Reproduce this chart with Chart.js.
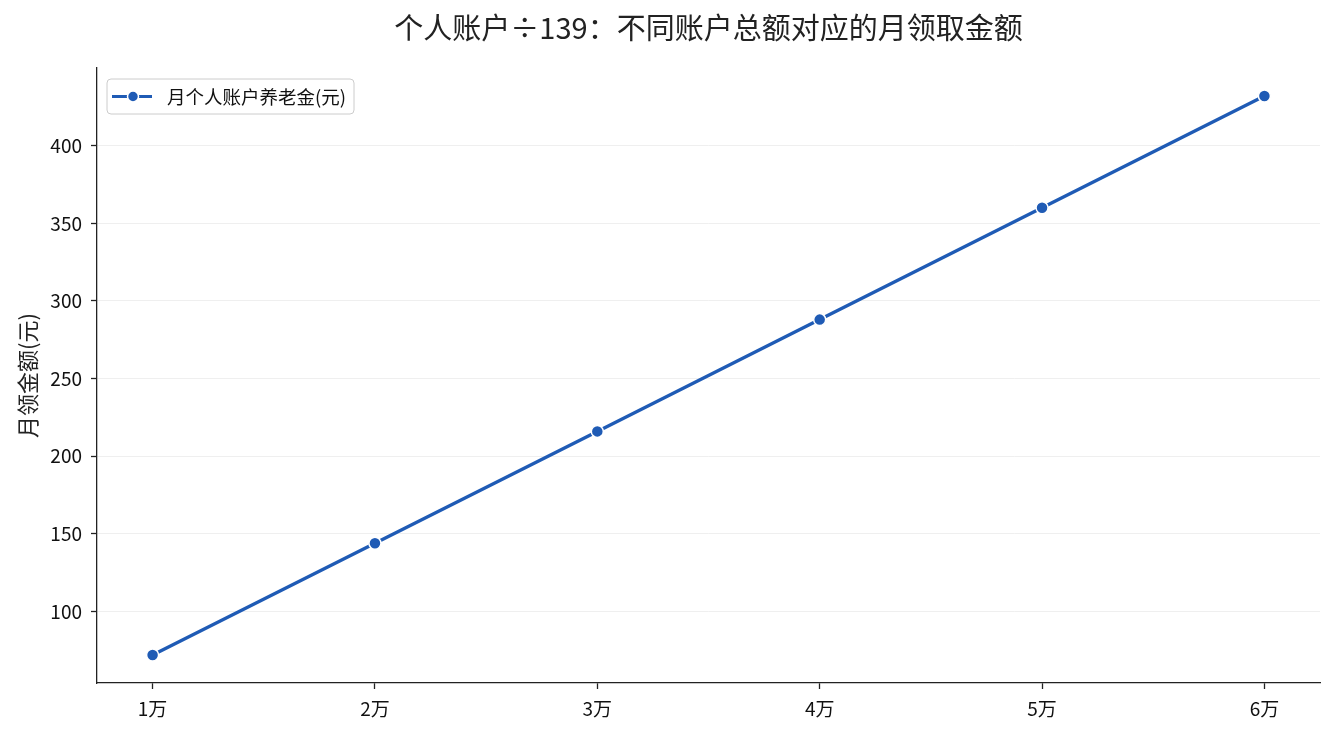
<!DOCTYPE html>
<html>
<head>
<meta charset="utf-8">
<script src="https://cdn.jsdelivr.net/npm/chart.js@4/dist/chart.umd.min.js"></script>
<style>
  html, body { margin: 0; padding: 0; background: #fff; }
  #wrap { width: 1335px; height: 735px; }
</style>
</head>
<body>
<div id="wrap"><canvas id="chart" width="1335" height="735"></canvas></div>
<script>
// 个人账户 ÷ 139 — monthly payout for each account total
const xLabels = ["1万", "2万", "3万", "4万", "5万", "6万"];
const monthly = [72, 144, 216, 288, 360, 432];
const yTicks = [100, 150, 200, 250, 300, 350, 400];

const FONT = "'Noto Sans CJK SC', 'Noto Sans', sans-serif";
const blue = "#1f5bb5";
const ink = "#222222";
const TITLE = "个人账户÷139：不同账户总额对应的月领取金额";

// title centred over the plot area, matplotlib style
const axesTitle = {
  id: "axesTitle",
  afterDraw(chart) {
    const ctx = chart.ctx;
    const a = chart.chartArea;
    ctx.save();
    ctx.fillStyle = ink;
    ctx.font = "29px " + FONT;
    ctx.textAlign = "center";
    ctx.textBaseline = "middle";
    ctx.fillText(TITLE, (a.left + a.right) / 2, 28);
    ctx.restore();
  }
};

// legend box drawn inside the plot area
const legendBox = {
  id: "legendBox",
  afterDraw(chart) {
    const ctx = chart.ctx;
    const a = chart.chartArea;
    const x = a.left + 10, y = a.top + 11, w = 247, h = 35;
    ctx.save();
    ctx.beginPath();
    ctx.roundRect(x, y, w, h, 4);
    ctx.fillStyle = "rgba(255,255,255,0.85)";
    ctx.fill();
    ctx.strokeStyle = "#cccccc";
    ctx.lineWidth = 1;
    ctx.stroke();
    const cy = y + h / 2;
    ctx.strokeStyle = blue;
    ctx.lineWidth = 3;
    ctx.beginPath();
    ctx.moveTo(x + 5, cy);
    ctx.lineTo(x + 45, cy);
    ctx.stroke();
    ctx.beginPath();
    ctx.arc(x + 26, cy, 5.5, 0, Math.PI * 2);
    ctx.fillStyle = blue;
    ctx.fill();
    ctx.strokeStyle = "#fff";
    ctx.lineWidth = 1.5;
    ctx.stroke();
    ctx.fillStyle = "#111";
    ctx.font = "18.5px " + FONT;
    ctx.textBaseline = "middle";
    ctx.fillText(chart.data.datasets[0].label, x + 60, cy);
    ctx.restore();
  }
};

new Chart(document.getElementById("chart").getContext("2d"), {
  type: "line",
  data: {
    datasets: [{
      label: "月个人账户养老金(元)",
      data: monthly.map((v, i) => ({ x: i, y: v })),
      borderColor: blue,
      borderWidth: 3.4,
      pointRadius: 6,
      pointBackgroundColor: blue,
      pointBorderColor: "#ffffff",
      pointBorderWidth: 1.5,
      tension: 0,
    }],
  },
  options: {
    responsive: false,
    animation: false,
    layout: { padding: { top: 68, right: 15, bottom: 0, left: 0 } },
    plugins: {
      legend: { display: false },
      tooltip: { enabled: false },
    },
    scales: {
      x: {
        type: "linear",
        min: -0.25,
        max: 5.25,
        afterBuildTicks: (s) => { s.ticks = xLabels.map((_, i) => ({ value: i })); },
        afterFit: (s) => { s.height = 52; },
        grid: { drawOnChartArea: false, tickLength: 6, tickColor: ink, tickWidth: 1.3 },
        border: { display: true, color: ink, width: 1.3 },
        ticks: {
          color: "#111",
          font: { family: FONT, size: 19 },
          padding: 8,
          maxRotation: 0,
          callback: (v) => xLabels[v] ?? "",
        },
      },
      y: {
        min: 54,
        max: 450,
        afterBuildTicks: (s) => { s.ticks = yTicks.map(v => ({ value: v })); },
        afterFit: (s) => { s.width = 97; },
        grid: { color: "#ebebeb", lineWidth: 0.8, tickLength: 6, tickColor: ink, tickWidth: 1.3 },
        border: { display: true, color: ink, width: 1.3 },
        ticks: {
          color: "#111",
          font: { family: FONT, size: 19 },
          padding: 9,
        },
        title: {
          display: true,
          text: "月领金额(元)",
          color: ink,
          font: { family: FONT, size: 22 },
          padding: { top: 14, bottom: 0 },
        },
      },
    },
  },
  plugins: [axesTitle, legendBox],
});
</script>
</body>
</html>
